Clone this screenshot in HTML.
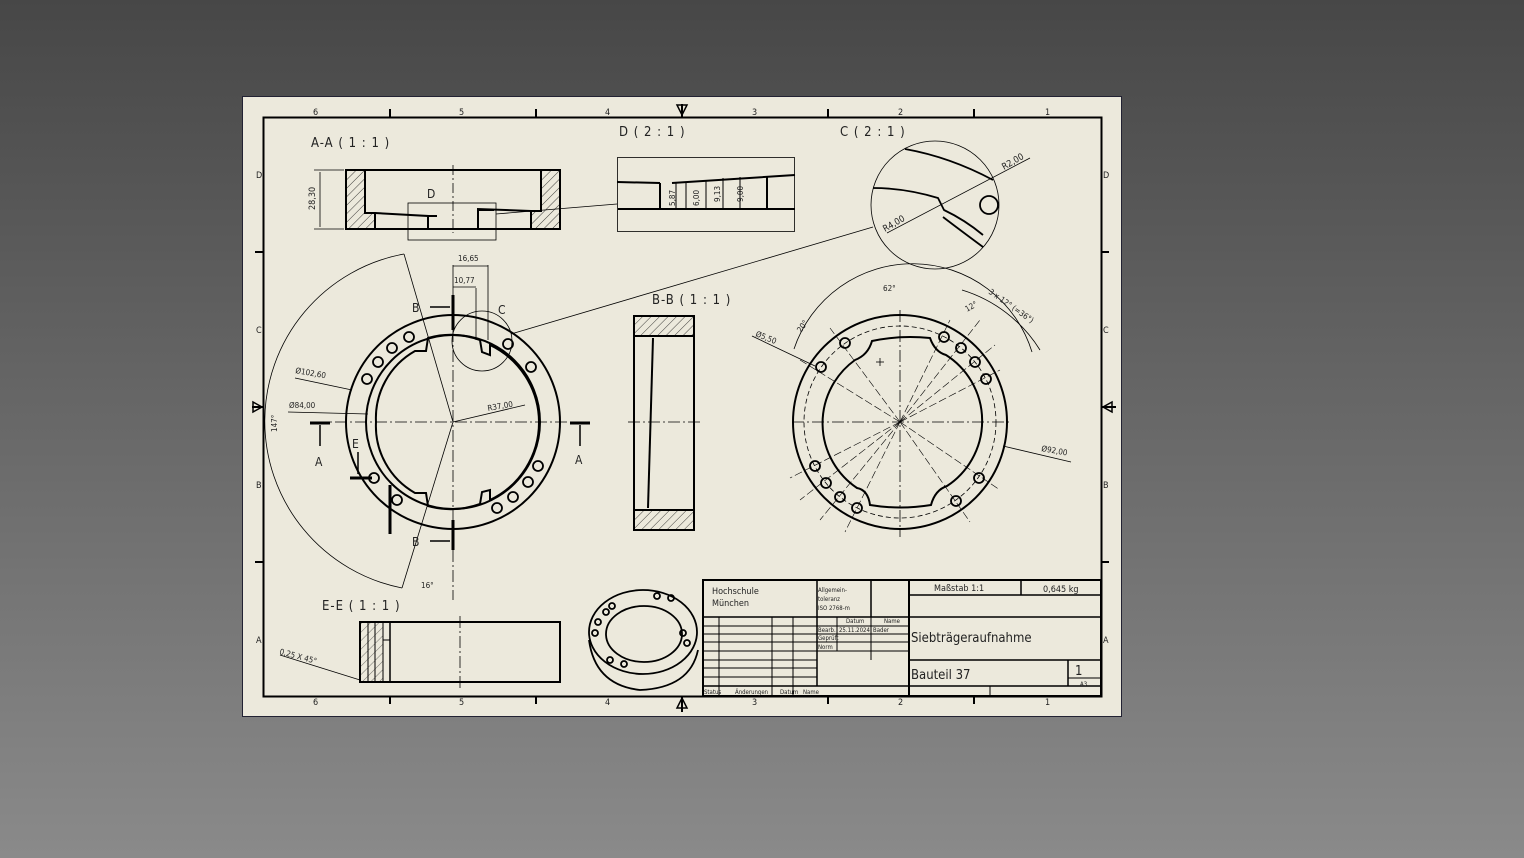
<!DOCTYPE html>
<html><head><meta charset="utf-8"><style>
html,body{margin:0;padding:0}
body{width:1524px;height:858px;background:linear-gradient(#474747,#8a8a8a);overflow:hidden}
svg{position:absolute;left:0;top:0}
text{font-family:"DejaVu Sans Condensed","Liberation Sans",sans-serif;fill:#222}
</style></head><body>
<svg width="1524" height="858" viewBox="0 0 1524 858">
<defs>
<pattern id="h" width="6" height="6" patternUnits="userSpaceOnUse" patternTransform="rotate(45)"><line x1="0" y1="0" x2="0" y2="6" stroke="#111" stroke-width="0.8"/></pattern>
</defs>
<rect x="242.5" y="96.5" width="879" height="620" fill="#ece9dc" stroke="#223" stroke-width="1"/>
<rect x="263.5" y="117.5" width="838" height="579" fill="none" stroke="#000" stroke-width="2"/>
<g stroke="#000" stroke-width="2">
<line x1="390" y1="109" x2="390" y2="117"/><line x1="536" y1="109" x2="536" y2="117"/><line x1="828" y1="109" x2="828" y2="117"/><line x1="974" y1="109" x2="974" y2="117"/>
<line x1="390" y1="696" x2="390" y2="704"/><line x1="536" y1="696" x2="536" y2="704"/><line x1="828" y1="696" x2="828" y2="704"/><line x1="974" y1="696" x2="974" y2="704"/>
<line x1="255" y1="252" x2="263" y2="252"/><line x1="255" y1="562" x2="263" y2="562"/>
<line x1="1101" y1="252" x2="1109" y2="252"/><line x1="1101" y1="562" x2="1109" y2="562"/>
<line x1="682" y1="104" x2="682" y2="117"/><line x1="682" y1="696" x2="682" y2="712"/>
<line x1="252" y1="407" x2="263" y2="407"/><line x1="1101" y1="407" x2="1116" y2="407"/>
</g>
<g fill="none" stroke="#000" stroke-width="1.5">
<path d="M677,105 L687,105 L682,115Z"/><path d="M677,708 L687,708 L682,698Z"/>
<path d="M253,402 L253,412 L262,407Z"/><path d="M1112,402 L1112,412 L1103,407Z"/>
</g>
<g font-size="9">
<text x="313" y="115">6</text><text x="459" y="115">5</text><text x="605" y="115">4</text><text x="752" y="115">3</text><text x="898" y="115">2</text><text x="1045" y="115">1</text>
<text x="313" y="705">6</text><text x="459" y="705">5</text><text x="605" y="705">4</text><text x="752" y="705">3</text><text x="898" y="705">2</text><text x="1045" y="705">1</text>
<text x="256" y="178">D</text><text x="256" y="333">C</text><text x="256" y="488">B</text><text x="256" y="643">A</text>
<text x="1103" y="178">D</text><text x="1103" y="333">C</text><text x="1103" y="488">B</text><text x="1103" y="643">A</text>
</g>
<!-- titles -->
<g font-size="13" letter-spacing="1">
<text x="311" y="147">A-A ( 1 : 1 )</text>
<text x="619" y="136">D ( 2 : 1 )</text>
<text x="840" y="136">C ( 2 : 1 )</text>
<text x="652" y="304">B-B ( 1 : 1 )</text>
<text x="322" y="610">E-E ( 1 : 1 )</text>
</g>
<!-- A-A view -->
<rect x="346" y="170" width="19" height="59" fill="url(#h)"/>
<rect x="541" y="170" width="19" height="59" fill="url(#h)"/>
<rect x="365" y="214" width="10" height="15" fill="url(#h)"/>
<rect x="531" y="211" width="10" height="18" fill="url(#h)"/>
<g fill="none" stroke="#000" stroke-width="2">
<rect x="346" y="170" width="214" height="59"/>
<path d="M365,170 L365,213 L375,213 L428,216 L428,229"/>
<path d="M541,170 L541,211 L531,211 L478,209 L478,229"/>
<line x1="375" y1="213" x2="375" y2="229"/><line x1="531" y1="211" x2="531" y2="229"/>
<line x1="428" y1="216" x2="437" y2="216"/><line x1="478" y1="210" x2="494" y2="210"/>
</g>
<g fill="none" stroke="#000" stroke-width="0.8">
<rect x="408" y="203" width="88" height="37"/>
<line x1="496" y1="214" x2="617" y2="204"/>
<line x1="453" y1="165" x2="453" y2="233" stroke-dasharray="10,3,2,3"/>
<line x1="314" y1="170" x2="344" y2="170"/><line x1="314" y1="229" x2="344" y2="229"/>
<line x1="320" y1="172" x2="320" y2="227"/>
</g>
<text x="427" y="198" font-size="12">D</text>
<text transform="translate(315,210) rotate(-90)" font-size="9">28,30</text>
<!-- D detail -->
<g fill="none" stroke="#000">
<rect x="617.5" y="157.5" width="177" height="74" stroke-width="0.8"/>
<path d="M617,182 L660,183 M618,209 L795,209 M672,183 L795,175" stroke-width="2"/>
<line x1="660" y1="183" x2="660" y2="209" stroke-width="2"/>
<line x1="767" y1="176" x2="767" y2="209" stroke-width="2"/>
<line x1="740" y1="177" x2="740" y2="209" stroke-width="1"/>
<line x1="676" y1="183" x2="676" y2="209" stroke-width="1"/><line x1="686" y1="183" x2="686" y2="209" stroke-width="1"/>
<line x1="706" y1="181" x2="706" y2="209" stroke-width="1"/><line x1="723" y1="178" x2="723" y2="209" stroke-width="1"/>
</g>
<g font-size="8">
<text transform="translate(675,206) rotate(-90)">5,87</text>
<text transform="translate(699,206) rotate(-90)">6,00</text>
<text transform="translate(720,202) rotate(-90)">9,13</text>
<text transform="translate(743,202) rotate(-90)">9,00</text>
</g>
<!-- C detail -->
<circle cx="935" cy="205" r="64" fill="none" stroke="#000" stroke-width="0.8"/>
<g fill="none" stroke="#000" stroke-width="1.8">
<path d="M905,149 Q950,157 993,180"/>
<path d="M873,188 Q905,188 938,198 L944,210 Q965,220 983,235"/>
<path d="M943,217 Q960,230 983,247"/>
<circle cx="989" cy="205" r="9"/>
</g>
<g stroke="#000" stroke-width="0.8">
<line x1="887" y1="233" x2="1030" y2="158"/>
<line x1="873" y1="227" x2="511" y2="334"/>
</g>
<text transform="translate(885,232) rotate(-30)" font-size="9">R4,00</text>
<text transform="translate(1004,170) rotate(-30)" font-size="9">R2,00</text>
<!-- left main view -->
<g fill="none" stroke="#000">
<circle cx="453" cy="422" r="107" stroke-width="2"/>
<circle cx="453" cy="422" r="87" stroke-width="2"/>
<path d="M428,338 A86,86 0 0 1 480,340 L482,352 L490,355 L490,345 A86,86 0 0 1 539,422 A86,86 0 0 1 490,500 L490,490 L482,492 L480,504 A86,86 0 0 1 428,506 L426,493 L415,493 A77,77 0 0 1 376,422 A77,77 0 0 1 415,351 L426,351Z" stroke-width="2"/>
<circle cx="482" cy="341" r="30" stroke-width="0.8"/>
<path d="M404,254 A170,170 0 0 0 402,588" stroke-width="0.8"/>
<line x1="404" y1="254" x2="453" y2="422" stroke-width="0.8"/>
<line x1="402" y1="588" x2="453" y2="422" stroke-width="0.8"/>
<line x1="453" y1="290" x2="453" y2="600" stroke-width="0.8" stroke-dasharray="12,3,2,3"/>
<line x1="315" y1="422" x2="590" y2="422" stroke-width="0.8" stroke-dasharray="12,3,2,3"/>
<line x1="453" y1="265" x2="453" y2="290" stroke-width="0.8"/>
<line x1="488" y1="265" x2="488" y2="340" stroke-width="0.8"/>
<line x1="476" y1="288" x2="476" y2="340" stroke-width="0.8"/>
<line x1="453" y1="266" x2="488" y2="266" stroke-width="0.8"/>
<line x1="453" y1="287" x2="476" y2="287" stroke-width="0.8"/>
<line x1="295" y1="378" x2="352" y2="390" stroke-width="0.8"/>
<line x1="288" y1="412" x2="368" y2="414" stroke-width="0.8"/>
<line x1="453" y1="422" x2="525" y2="405" stroke-width="0.8"/>
</g>
<g stroke="#000" stroke-width="3" fill="none">
<line x1="453" y1="295" x2="453" y2="330"/><line x1="453" y1="520" x2="453" y2="550"/>
<line x1="310" y1="423" x2="330" y2="423"/><line x1="570" y1="423" x2="590" y2="423"/>
<path d="M350,478 L372,478 M390,485 L390,534"/>
</g>
<g stroke="#000" stroke-width="1.5">
<line x1="430" y1="307" x2="450" y2="307"/><line x1="430" y1="541" x2="450" y2="541"/>
<line x1="320" y1="425" x2="320" y2="446"/><line x1="580" y1="425" x2="580" y2="446"/>
<line x1="358" y1="452" x2="358" y2="474"/>
</g>
<g font-size="12"><text x="412" y="312">B</text><text x="412" y="546">B</text><text x="315" y="466">A</text><text x="575" y="464">A</text><text x="352" y="448">E</text><text x="498" y="314">C</text></g>
<g fill="none" stroke="#000" stroke-width="1.8">
<circle cx="409" cy="337" r="5"/><circle cx="392" cy="348" r="5"/><circle cx="378" cy="362" r="5"/><circle cx="367" cy="379" r="5"/>
<circle cx="508" cy="344" r="5"/><circle cx="531" cy="367" r="5"/><circle cx="374" cy="478" r="5"/><circle cx="397" cy="500" r="5"/>
<circle cx="497" cy="508" r="5"/><circle cx="513" cy="497" r="5"/><circle cx="528" cy="482" r="5"/><circle cx="538" cy="466" r="5"/>
</g>
<g font-size="8">
<text x="458" y="261">16,65</text><text x="454" y="283">10,77</text>
<text transform="translate(295,373) rotate(10)">Ø102,60</text>
<text x="289" y="408">Ø84,00</text>
<text transform="translate(488,411) rotate(-10)">R37,00</text>
<text transform="translate(277,432) rotate(-90)">147°</text>
<text x="421" y="588">16°</text>
</g>
<!-- B-B -->
<rect x="634" y="316" width="60" height="20" fill="url(#h)"/>
<rect x="634" y="510" width="60" height="20" fill="url(#h)"/>
<g fill="none" stroke="#000" stroke-width="2">
<rect x="634" y="316" width="60" height="214"/>
<line x1="634" y1="336" x2="694" y2="336"/><line x1="634" y1="510" x2="694" y2="510"/>
<line x1="653" y1="338" x2="648" y2="508"/>
</g>
<line x1="628" y1="422" x2="700" y2="422" stroke="#000" stroke-width="0.8" stroke-dasharray="12,3,2,3"/>
<!-- right view -->
<g fill="none" stroke="#000">
<circle cx="900" cy="422" r="107" stroke-width="2"/>
<circle cx="900" cy="422" r="96" stroke-width="0.8" stroke-dasharray="5,3"/>
<path d="M872,341 Q900,335 930,338 Q935,352 946,355 A78,78 0 0 1 947,486 Q935,490 931,505 Q900,510 870,505 Q868,490 857,488 A78,78 0 0 1 855,360 Q868,355 872,341Z" stroke-width="2"/>
<line x1="900" y1="310" x2="900" y2="537" stroke-width="0.8" stroke-dasharray="12,3,2,3"/>
<line x1="792" y1="422" x2="1012" y2="422" stroke-width="0.8" stroke-dasharray="12,3,2,3"/>
<g stroke-width="0.6" stroke-dasharray="8,3">
<line x1="900" y1="422" x2="830" y2="328"/><line x1="900" y1="422" x2="800" y2="360"/>
<line x1="900" y1="422" x2="950" y2="320"/><line x1="900" y1="422" x2="980" y2="320"/>
<line x1="900" y1="422" x2="995" y2="345"/><line x1="900" y1="422" x2="1000" y2="370"/>
<line x1="900" y1="422" x2="790" y2="478"/><line x1="900" y1="422" x2="800" y2="500"/>
<line x1="900" y1="422" x2="820" y2="520"/><line x1="900" y1="422" x2="845" y2="532"/>
<line x1="900" y1="422" x2="1000" y2="490"/><line x1="900" y1="422" x2="970" y2="522"/>
</g>
<path d="M794,349 A125,125 0 0 1 1032,352" stroke-width="0.8"/>
<path d="M962,290 A140,140 0 0 1 1040,350" stroke-width="0.8"/>
<line x1="752" y1="336" x2="815" y2="366" stroke-width="0.8"/>
<line x1="1003" y1="446" x2="1071" y2="462" stroke-width="0.8"/>
<line x1="880" y1="358" x2="880" y2="366" stroke-width="0.8"/><line x1="876" y1="362" x2="884" y2="362" stroke-width="0.8"/>
</g>
<g fill="none" stroke="#000" stroke-width="1.8">
<circle cx="845" cy="343" r="5"/><circle cx="821" cy="367" r="5"/><circle cx="944" cy="337" r="5"/><circle cx="961" cy="348" r="5"/>
<circle cx="975" cy="362" r="5"/><circle cx="986" cy="379" r="5"/><circle cx="815" cy="466" r="5"/><circle cx="826" cy="483" r="5"/>
<circle cx="840" cy="497" r="5"/><circle cx="857" cy="508" r="5"/><circle cx="979" cy="478" r="5"/><circle cx="956" cy="501" r="5"/>
</g>
<g font-size="8">
<text x="883" y="291">62°</text>
<text transform="translate(801,333) rotate(-55)">20°</text>
<text transform="translate(967,312) rotate(-30)">12°</text>
<text transform="translate(988,293) rotate(35)">3 x 12° (=36°)</text>
<text transform="translate(755,336) rotate(22)">Ø5,50</text>
<text transform="translate(1041,451) rotate(10)">Ø92,00</text>
</g>
<!-- E-E -->
<g fill="none" stroke="#000" stroke-width="2">
<rect x="360" y="622" width="200" height="60"/>
<line x1="368" y1="622" x2="368" y2="682" stroke-width="1"/><line x1="375" y1="622" x2="375" y2="682" stroke-width="1"/>
<line x1="383" y1="622" x2="383" y2="682" stroke-width="1"/><line x1="390" y1="622" x2="390" y2="682" stroke-width="1.5"/>
<line x1="383" y1="640" x2="390" y2="640" stroke-width="1"/>
</g>
<rect x="361" y="623" width="22" height="58" fill="url(#h)" opacity="0.7"/>
<line x1="460" y1="616" x2="460" y2="688" stroke="#000" stroke-width="0.8" stroke-dasharray="12,3,2,3"/>
<line x1="280" y1="655" x2="360" y2="680" stroke="#000" stroke-width="0.8"/>
<text transform="translate(279,654) rotate(15)" font-size="8">0,25 X 45°</text>
<!-- iso -->
<g fill="none" stroke="#000" stroke-width="1.8">
<ellipse cx="643" cy="632" rx="54" ry="42"/>
<path d="M589,640 Q595,685 640,690 Q690,688 698,650"/>
<ellipse cx="644" cy="634" rx="38" ry="28"/>
<circle cx="606" cy="612" r="3"/><circle cx="598" cy="622" r="3"/><circle cx="595" cy="633" r="3"/><circle cx="612" cy="606" r="3"/>
<circle cx="657" cy="596" r="3"/><circle cx="671" cy="598" r="3"/><circle cx="683" cy="633" r="3"/><circle cx="687" cy="643" r="3"/>
<circle cx="610" cy="660" r="3"/><circle cx="624" cy="664" r="3"/>
</g>
<!-- title block -->
<g fill="none" stroke="#000">
<rect x="703" y="580" width="398" height="116" stroke-width="2"/>
<line x1="703" y1="617" x2="909" y2="617" stroke-width="1.5"/>
<line x1="817" y1="580" x2="817" y2="686" stroke-width="1.5"/>
<line x1="871" y1="580" x2="871" y2="617" stroke-width="1.5"/>
<line x1="909" y1="580" x2="909" y2="696" stroke-width="2"/>
<line x1="909" y1="595" x2="1101" y2="595" stroke-width="1.5"/>
<line x1="1021" y1="580" x2="1021" y2="595" stroke-width="1.5"/>
<line x1="909" y1="617" x2="1101" y2="617" stroke-width="1.5"/>
<line x1="909" y1="660" x2="1101" y2="660" stroke-width="1.5"/>
<line x1="909" y1="686" x2="1101" y2="686" stroke-width="1.5"/>
<line x1="1068" y1="660" x2="1068" y2="686" stroke-width="1.5"/>
<line x1="1068" y1="678" x2="1101" y2="678" stroke-width="1"/>
<line x1="990" y1="686" x2="990" y2="696" stroke-width="1"/>
<line x1="703" y1="686" x2="909" y2="686" stroke-width="1.5"/>
<g stroke-width="1">
<line x1="703" y1="626" x2="909" y2="626"/><line x1="703" y1="634" x2="909" y2="634"/><line x1="703" y1="642" x2="909" y2="642"/>
<line x1="703" y1="651" x2="909" y2="651"/><line x1="703" y1="660" x2="817" y2="660"/><line x1="703" y1="668" x2="817" y2="668"/>
<line x1="703" y1="677" x2="817" y2="677"/>
<line x1="719" y1="617" x2="719" y2="696"/><line x1="772" y1="617" x2="772" y2="696"/><line x1="793" y1="617" x2="793" y2="696"/>
<line x1="837" y1="617" x2="837" y2="651"/><line x1="871" y1="617" x2="871" y2="660"/>
</g>
</g>
<g font-size="9">
<text x="712" y="594">Hochschule</text><text x="712" y="606">München</text>
<text x="934" y="591">Maßstab 1:1</text><text x="1043" y="592">0,645 kg</text>
<text x="1075" y="675" font-size="13">1</text><text x="1080" y="686" font-size="6">A3</text>
</g>
<g font-size="6"><text x="818" y="592">Allgemein-</text><text x="818" y="601">toleranz</text><text x="818" y="610">ISO 2768-m</text>
<text x="846" y="623">Datum</text><text x="884" y="623">Name</text><text x="818" y="632">Bearb.</text><text x="839" y="632">25.11.2024</text><text x="873" y="632">Bader</text>
<text x="818" y="640">Geprüft</text><text x="818" y="649">Norm</text>
<text x="704" y="694">Status</text><text x="735" y="694">Änderungen</text><text x="780" y="694">Datum</text><text x="803" y="694">Name</text></g>
<text x="911" y="642" font-size="13">Siebträgeraufnahme</text>
<text x="911" y="679" font-size="13">Bauteil 37</text>
</svg>
</body></html>
